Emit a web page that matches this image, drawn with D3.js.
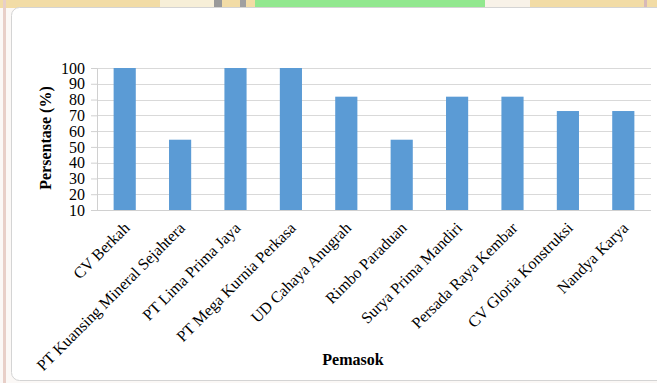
<!DOCTYPE html>
<html>
<head>
<meta charset="utf-8">
<script src="https://cdn.jsdelivr.net/npm/d3@7"></script>
<style>
  html, body { margin: 0; padding: 0; background: #ffffff; }
  svg { display: block; }
</style>
</head>
<body>
<svg id="chart" width="657" height="383"></svg>
<script>
const categories = [
  "CV Berkah",
  "PT Kuansing Mineral Sejahtera",
  "PT Lima Prima Jaya",
  "PT Mega Kurnia Perkasa",
  "UD Cahaya Anugrah",
  "Rimbo Paraduan",
  "Surya Prima Mandiri",
  "Persada Raya Kembar",
  "CV Gloria Konstruksi",
  "Nandya Karya"
];
const values = [100, 54.55, 100, 100, 81.82, 54.55, 81.82, 81.82, 72.73, 72.73];
const yTicks = [10, 20, 30, 40, 50, 60, 70, 80, 90, 100];
const yTitle = "Persentase (%)";
const xTitle = "Pemasok";

const svg = d3.select("#chart");
const font = "'Liberation Serif', 'Times New Roman', serif";

// background decoration (page behind the chart card)
const bg = svg.append("g");
bg.append("rect").attr("x", 0).attr("y", 0).attr("width", 657).attr("height", 383).attr("fill", "#fbf8f6");
bg.append("rect").attr("x", 0).attr("y", 0).attr("width", 657).attr("height", 8).attr("fill", "#f2dca6");
bg.append("rect").attr("x", 255).attr("y", 0).attr("width", 230).attr("height", 8).attr("fill", "#92e88f");
bg.append("rect").attr("x", 160).attr("y", 0).attr("width", 60).attr("height", 8).attr("fill", "#f7efd8");
bg.append("rect").attr("x", 485).attr("y", 0).attr("width", 45).attr("height", 8).attr("fill", "#f8f2e8");
bg.append("rect").attr("x", 214).attr("y", 0).attr("width", 8).attr("height", 8).attr("fill", "#9a9a9a");
bg.append("rect").attr("x", 240).attr("y", 0).attr("width", 6).attr("height", 8).attr("fill", "#a0a0a0");
bg.append("rect").attr("x", 3).attr("y", 0).attr("width", 3).attr("height", 383).attr("fill", "#e8cfc8");
bg.append("rect").attr("x", 644).attr("y", 0).attr("width", 3).attr("height", 8).attr("fill", "#d7b9b9");

// white card
svg.append("rect")
  .attr("x", 11.5).attr("y", 7.5)
  .attr("width", 700).attr("height", 373)
  .attr("rx", 8).attr("ry", 8)
  .attr("fill", "#ffffff")
  .attr("stroke", "#d4d4d4");

const x = d3.scaleBand()
  .domain(categories)
  .range([97, 651])
  .paddingInner(0.6)
  .paddingOuter(0.3);

const y = d3.scaleLinear()
  .domain([10, 100])
  .range([210, 68]);

// gridlines
svg.append("g")
  .selectAll("line")
  .data(yTicks.slice(1))
  .join("line")
  .attr("x1", 97).attr("x2", 651)
  .attr("y1", d => Math.round(y(d)) + 0.5)
  .attr("y2", d => Math.round(y(d)) + 0.5)
  .attr("stroke", "#d9d9d9")
  .attr("stroke-width", 1);

// bars
svg.append("g")
  .selectAll("rect")
  .data(categories)
  .join("rect")
  .attr("x", d => x(d))
  .attr("width", x.bandwidth())
  .attr("y", (d, i) => y(values[i]))
  .attr("height", (d, i) => y(10) - y(values[i]))
  .attr("fill", "#5b9bd5");

// y axis
const yAxis = svg.append("g")
  .attr("transform", "translate(97,0)")
  .call(d3.axisLeft(y).tickValues(yTicks).tickSize(6).tickPadding(6).tickFormat(d3.format("d")));
yAxis.select(".domain").attr("stroke", "#d0d0d0");
yAxis.selectAll(".tick line").attr("stroke", "#d0d0d0");
yAxis.selectAll(".tick text")
  .attr("font-family", font)
  .attr("font-size", "16px")
  .attr("fill", "#000");

// x axis
const xAxis = svg.append("g")
  .attr("transform", "translate(0,210)")
  .call(d3.axisBottom(x).tickSize(0).tickPadding(0));
xAxis.select(".domain").attr("stroke", "#d0d0d0").attr("d", "M97,0.5H651");
xAxis.selectAll(".tick text")
  .attr("font-family", font)
  .attr("font-size", "16px")
  .attr("fill", "#000")
  .attr("text-anchor", "end")
  .attr("x", 0).attr("y", 0).attr("dy", "0.35em")
  .attr("transform", "translate(2,15) rotate(-45)");

// axis titles
svg.append("text")
  .attr("transform", "translate(45,138) rotate(-90)")
  .attr("text-anchor", "middle")
  .attr("dy", "0.35em")
  .attr("font-family", font)
  .attr("font-weight", "bold")
  .attr("font-size", "16px")
  .text(yTitle);

svg.append("text")
  .attr("x", 353).attr("y", 365)
  .attr("text-anchor", "middle")
  .attr("font-family", font)
  .attr("font-weight", "bold")
  .attr("font-size", "16px")
  .text(xTitle);
</script>
</body>
</html>
